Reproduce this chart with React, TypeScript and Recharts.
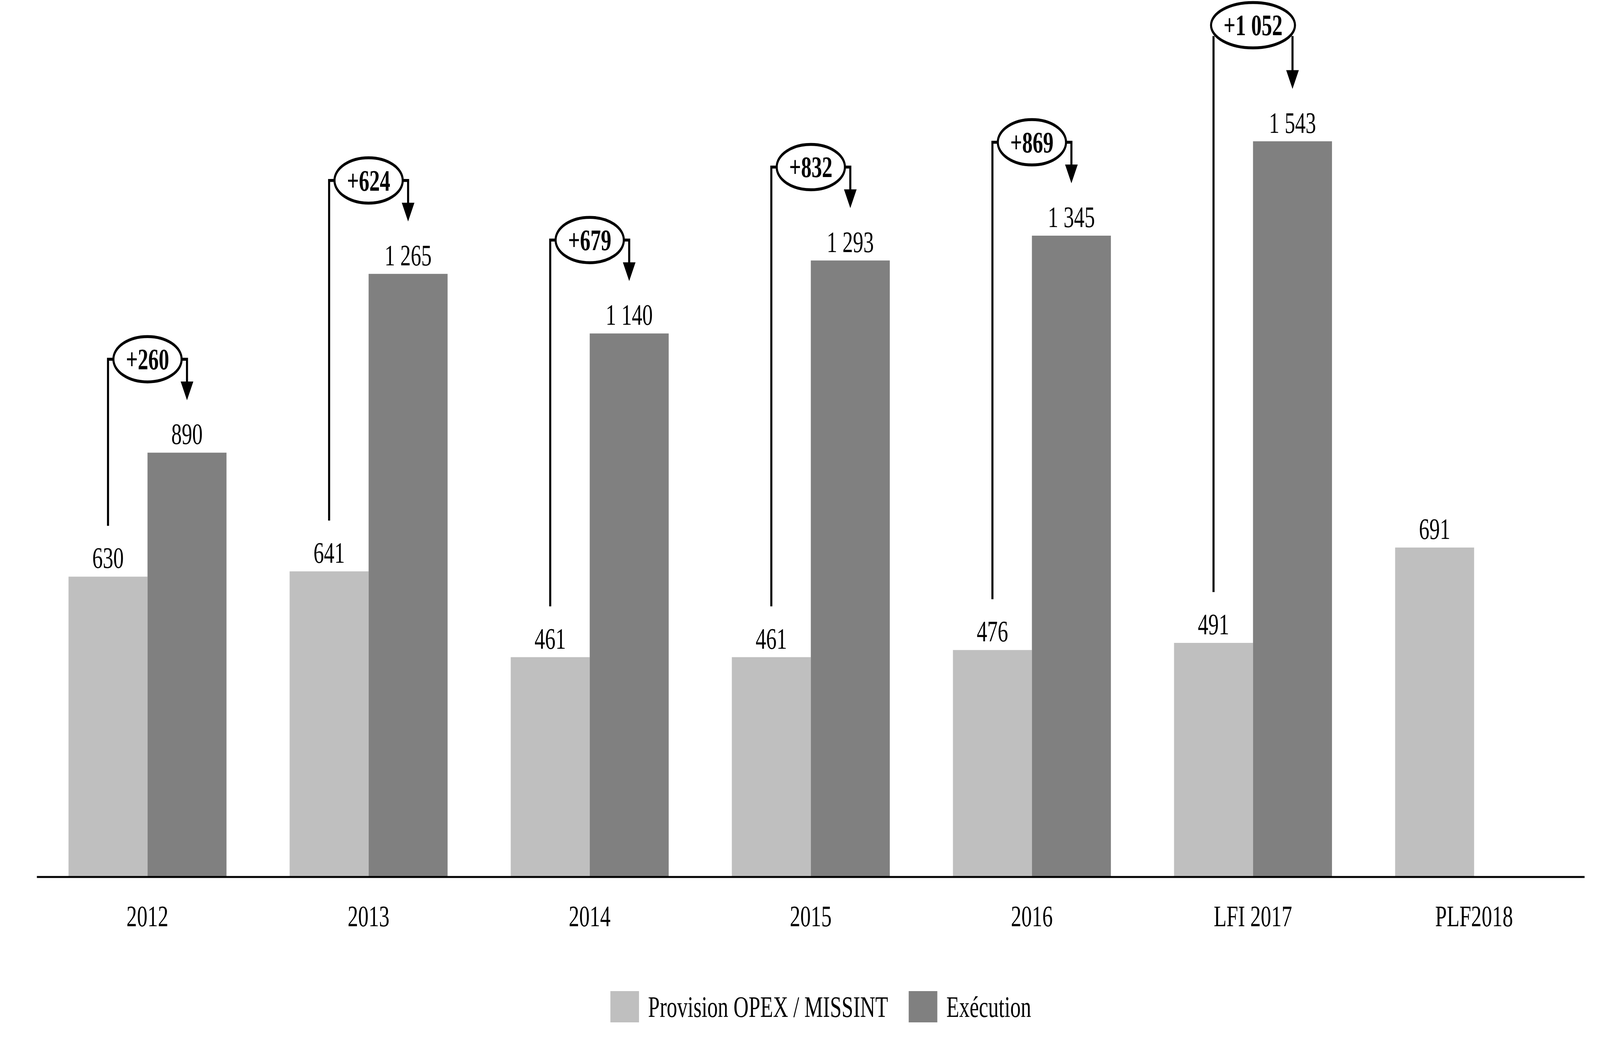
import React from 'react';
import { BarChart, Bar, XAxis, YAxis, LabelList, Legend } from 'recharts';

const categories = ['2012', '2013', '2014', '2015', '2016', 'LFI 2017', 'PLF2018'];
const provision = [630, 641, 461, 461, 476, 491, 691];
const execution: (number | null)[] = [890, 1265, 1140, 1293, 1345, 1543, null];

const data = categories.map((name, i) => ({
  name,
  provision: provision[i],
  execution: execution[i],
}));

const W = 5814;
const H = 2656;
const FONT = '"Liberation Serif", "Times New Roman", serif';
const LIGHT = '#BFBFBF';
const DARK = '#808080';

const fmt = (v: any) => {
  if (v == null) return '';
  const n = Number(v);
  if (n >= 1000) return `${Math.floor(n / 1000)} ${String(n % 1000).padStart(3, '0')}`;
  return String(n);
};

const Tick = ({ x, y, payload }: any) => (
  <text x={x} y={y} dy={126} textAnchor="middle" fontFamily={FONT} fontSize={76} fill="#000">
    {payload.value}
  </text>
);

// bracket + ellipse showing the gap between provision and execution
const Bracket = (props: any) => {
  const vb = props.viewBox && props.viewBox.width != null ? props.viewBox : props;
  const { x, y, width, height } = vb;
  let index = props.index;
  if (index == null) index = execution.indexOf(Number(props.value));
  const dark = execution[index];
  const light = provision[index];
  if (dark == null || light == null || !width) return null;

  const base = y + height;
  const yD = y;
  const yL = base - (height * light) / dark;
  const lx = x - width / 2;
  const dx = x + width / 2;
  const cx = x;

  const label = `+${fmt(dark - light)}`;
  const fs = 76;
  const textW = label.split('').reduce((s, c) => s + (c === ' ' ? 0.25 : 0.5), 0) * fs;
  const rx = textW / 2 + 48;
  const ry = 58;
  const wide = rx > width / 2;
  const cy = wide ? yD - 239 - ry : yD - 239;

  let joinY = cy;
  if (wide) {
    const r = width / 2 / rx;
    joinY = cy + ry * Math.sqrt(1 - r * r) + 8;
  }
  const tip = yD - 134;
  const headL = 48;
  const headW = 23;
  const sw = 7.5;

  return (
    <g>
      <polyline
        points={`${lx},${yL - 130} ${lx},${joinY} ${wide ? lx : cx - rx},${joinY}`}
        fill="none"
        stroke="#000"
        strokeWidth={sw}
      />
      <polyline
        points={`${wide ? dx : cx + rx},${joinY} ${dx},${joinY} ${dx},${tip - headL + 2}`}
        fill="none"
        stroke="#000"
        strokeWidth={sw}
      />
      <polygon points={`${dx - headW},${tip - headL} ${dx + headW},${tip - headL} ${dx},${tip}`} fill="#000" />
      <ellipse cx={cx} cy={cy} rx={rx} ry={ry} fill="#fff" stroke="#000" strokeWidth={7.5} />
      <text
        x={cx}
        y={cy}
        dy="0.34em"
        textAnchor="middle"
        fontFamily={FONT}
        fontSize={fs}
        fontWeight="bold"
        fill="#000"
      >
        {label}
      </text>
    </g>
  );
};

const LegendContent = () => (
  <div
    style={{
      height: 160,
      display: 'flex',
      alignItems: 'center',
      paddingLeft: 2218,
      fontFamily: FONT,
      fontSize: 76,
      color: '#000',
      whiteSpace: 'nowrap',
    }}
  >
    <div style={{ width: 104, height: 80, background: LIGHT, flex: 'none' }} />
    <span style={{ marginLeft: 33 }}>Provision OPEX / MISSINT</span>
    <div style={{ width: 104, height: 80, background: DARK, marginLeft: 75, flex: 'none' }} />
    <span style={{ marginLeft: 33 }}>Exécution</span>
  </div>
);

export default function App() {
  // the browser caps the window width, so squeeze the full-size chart to fit it
  const vw = typeof window !== 'undefined' ? window.innerWidth : W;
  const sx = vw < W ? vw / W : 1;
  return (
    <div
      style={{
        position: 'absolute',
        left: 0,
        top: 0,
        width: W,
        height: H,
        background: '#fff',
        transform: `scaleX(${sx})`,
        transformOrigin: '0 0',
      }}
    >
      <BarChart
        width={W}
        height={H}
        data={data}
        margin={{ top: 48, right: 56, left: 134, bottom: 0 }}
        barSize={287}
        barGap={0}
      >
        <XAxis
          dataKey="name"
          height={252}
          tick={<Tick />}
          tickLine={false}
          tickSize={0}
          tickMargin={0}
          axisLine={{ stroke: '#000', strokeWidth: 5 }}
          interval={0}
        />
        <YAxis hide domain={[0, 1800]} />
        <Legend verticalAlign="bottom" wrapperStyle={{ left: 0, width: W }} content={<LegendContent />} />
        <Bar dataKey="provision" name="Provision OPEX / MISSINT" fill={LIGHT} isAnimationActive={false}>
          <LabelList
            dataKey="provision"
            position="top"
            offset={22}
            formatter={fmt}
            style={{ fontFamily: FONT, fontSize: 76, fill: '#000' }}
          />
        </Bar>
        <Bar dataKey="execution" name="Exécution" fill={DARK} isAnimationActive={false}>
          <LabelList
            dataKey="execution"
            position="top"
            offset={22}
            formatter={fmt}
            style={{ fontFamily: FONT, fontSize: 76, fill: '#000' }}
          />
          <LabelList dataKey="execution" content={<Bracket />} />
        </Bar>
      </BarChart>
    </div>
  );
}
